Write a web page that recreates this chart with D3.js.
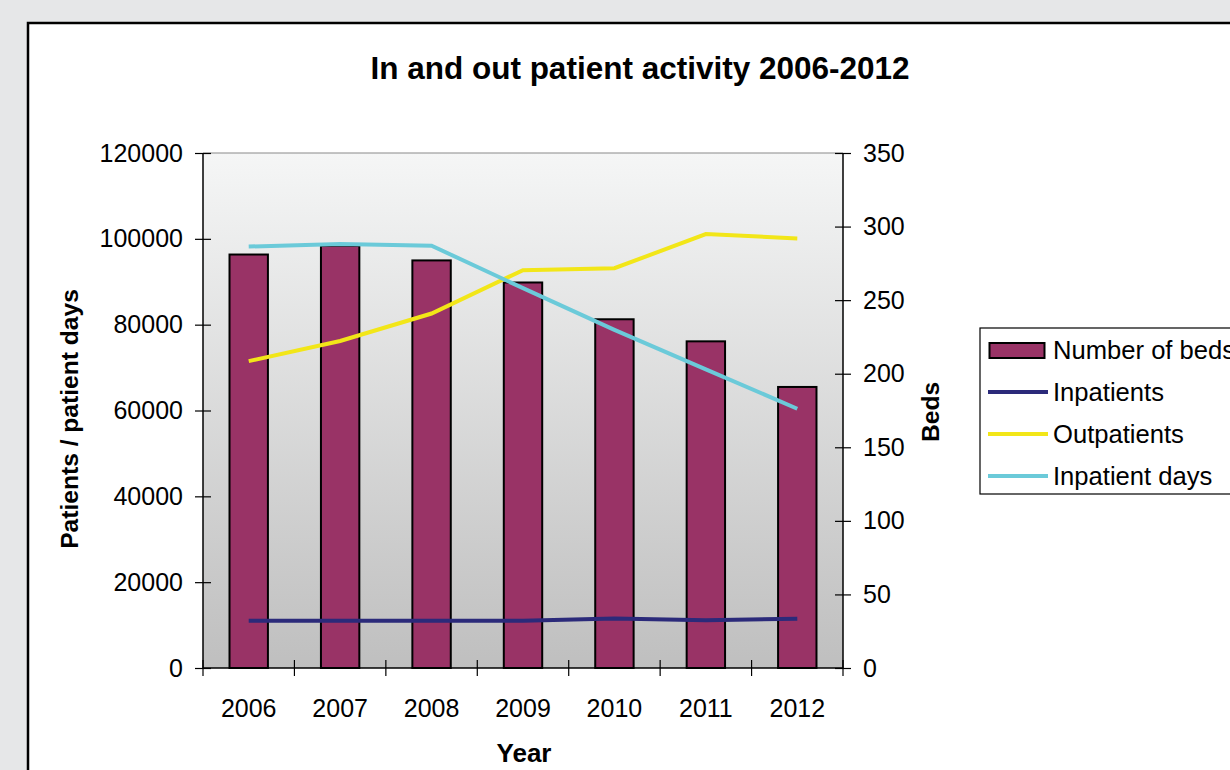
<!DOCTYPE html>
<html>
<head>
<meta charset="utf-8">
<script src="https://cdn.jsdelivr.net/npm/d3@7"></script>
<style>
  html, body { margin: 0; padding: 0; background: #e6e7e8; }
  svg { display: block; }
  text { font-family: "Liberation Sans", Arial, sans-serif; fill: #000; }
</style>
</head>
<body>
<svg id="chart" width="1230" height="770"></svg>
<script>
const years = ["2006", "2007", "2008", "2009", "2010", "2011", "2012"];
const beds = [281, 287, 277, 262, 237, 222, 191];
const inpatients = [11000, 11000, 11000, 11000, 11550, 11150, 11450];
const outpatients = [71500, 76200, 82600, 92700, 93150, 101100, 100100];
const inpatientDays = [98200, 98800, 98400, 88500, 78800, 69600, 60400];
const leftTicks = [0, 20000, 40000, 60000, 80000, 100000, 120000];
const rightTicks = [0, 50, 100, 150, 200, 250, 300, 350];
const legendLabels = ["Number of beds", "Inpatients", "Outpatients", "Inpatient days"];
const colors = { beds: "#993366", inpatients: "#2b2a7a", outpatients: "#f2e618", days: "#6bcad9" };

const svg = d3.select("#chart");
const L = 203, R = 843, T = 153, B = 668;

// white panel
svg.append("rect").attr("x", 28).attr("y", 23).attr("width", 1230).attr("height", 800)
  .attr("fill", "#fff").attr("stroke", "#000").attr("stroke-width", 2.5);

// gradient
const defs = svg.append("defs");
const grad = defs.append("linearGradient").attr("id", "bg").attr("x1", 0).attr("y1", 0).attr("x2", 0).attr("y2", 1);
grad.append("stop").attr("offset", "0%").attr("stop-color", "#f5f6f6");
grad.append("stop").attr("offset", "100%").attr("stop-color", "#bfbfbf");

svg.append("rect").attr("x", L).attr("y", T).attr("width", R - L).attr("height", B - T)
  .attr("fill", "url(#bg)");
svg.append("line").attr("x1", L).attr("x2", R).attr("y1", T).attr("y2", T)
  .attr("stroke", "#8a8a8a").attr("stroke-width", 1.2);

const x = d3.scaleBand().domain(years).range([L, R]).paddingInner(0).paddingOuter(0);
const yL = d3.scaleLinear().domain([0, 120000]).range([B, T]);
const yR = d3.scaleLinear().domain([0, 350]).range([B, T]);
const barW = x.bandwidth() * 0.42;

// bars
svg.append("g").selectAll("rect").data(years).join("rect")
  .attr("x", d => x(d) + x.bandwidth() / 2 - barW / 2)
  .attr("y", (d, i) => yR(beds[i]))
  .attr("width", barW)
  .attr("height", (d, i) => B - yR(beds[i]))
  .attr("fill", colors.beds).attr("stroke", "#000").attr("stroke-width", 2);

// lines
const line = d3.line().x((d, i) => x(years[i]) + x.bandwidth() / 2).y(d => yL(d));
[[inpatients, colors.inpatients], [outpatients, colors.outpatients], [inpatientDays, colors.days]]
  .forEach(([data, c]) => {
    svg.append("path").datum(data).attr("d", line).attr("fill", "none")
      .attr("stroke", c).attr("stroke-width", 4).attr("stroke-linejoin", "miter");
  });

// axes
const fs = 25;
const gl = svg.append("g").attr("transform", `translate(${L},0)`)
  .call(d3.axisLeft(yL).tickValues(leftTicks).tickFormat(d3.format("d")).tickSize(8).tickPadding(12));
gl.select(".domain").attr("d", `M0,${T}V${B}`).attr("stroke", "#000").attr("stroke-width", 1.5);
gl.selectAll(".tick line").attr("x1", 8).attr("x2", -8).attr("stroke", "#000").attr("stroke-width", 1.2);
gl.selectAll(".tick text").attr("x", -20).style("font-size", fs + "px").attr("font-family", null);

const gr = svg.append("g").attr("transform", `translate(${R},0)`)
  .call(d3.axisRight(yR).tickValues(rightTicks).tickSize(8).tickPadding(12));
gr.select(".domain").attr("d", `M0,${T}V${B}`).attr("stroke", "#000").attr("stroke-width", 1.5);
gr.selectAll(".tick line").attr("x1", -8).attr("x2", 8).attr("stroke", "#000").attr("stroke-width", 1.2);
gr.selectAll(".tick text").attr("x", 20).style("font-size", fs + "px").attr("font-family", null);

const gx = svg.append("g").attr("transform", `translate(0,${B})`)
  .call(d3.axisBottom(x).tickSize(0).tickPadding(0));
gx.select(".domain").attr("d", `M${L},0H${R}`).attr("stroke", "#000").attr("stroke-width", 1.5);
gx.selectAll(".tick text").attr("y", 49).attr("dy", 0).style("font-size", fs + "px").attr("font-family", null);
// category boundary ticks
const bounds = years.map(d => x(d)).concat([R]);
svg.append("g").selectAll("line").data(bounds).join("line")
  .attr("x1", d => d).attr("x2", d => d).attr("y1", B - 8).attr("y2", B + 8)
  .attr("stroke", "#000").attr("stroke-width", 1.2);

// titles
svg.append("text").attr("x", 640).attr("y", 79).attr("text-anchor", "middle")
  .style("font-size", "31.5px").style("font-weight", "bold").text("In and out patient activity 2006-2012");
svg.append("text").attr("x", 524).attr("y", 762).attr("text-anchor", "middle")
  .style("font-size", "26px").style("font-weight", "bold").text("Year");
svg.append("text").attr("transform", "translate(78,419) rotate(-90)").attr("text-anchor", "middle")
  .style("font-size", "24.6px").style("font-weight", "bold").text("Patients / patient days");
svg.append("text").attr("transform", "translate(939,412) rotate(-90)").attr("text-anchor", "middle")
  .style("font-size", "24.6px").style("font-weight", "bold").text("Beds");

// legend
const lg = svg.append("g");
lg.append("rect").attr("x", 980).attr("y", 328).attr("width", 300).attr("height", 166)
  .attr("fill", "#fff").attr("stroke", "#000").attr("stroke-width", 1.2);
const rowY = [350, 392, 434, 476];
lg.append("rect").attr("x", 989.5).attr("y", 343).attr("width", 55).attr("height", 15)
  .attr("fill", colors.beds).attr("stroke", "#000").attr("stroke-width", 2);
[colors.inpatients, colors.outpatients, colors.days].forEach((c, i) => {
  lg.append("line").attr("x1", 988).attr("x2", 1048).attr("y1", rowY[i + 1]).attr("y2", rowY[i + 1])
    .attr("stroke", c).attr("stroke-width", 4);
});
lg.selectAll("text.leg").data(legendLabels).join("text").attr("class", "leg")
  .attr("x", 1053).attr("y", (d, i) => rowY[i] + 9)
  .style("font-size", "25.6px").text(d => d);
</script>
</body>
</html>
